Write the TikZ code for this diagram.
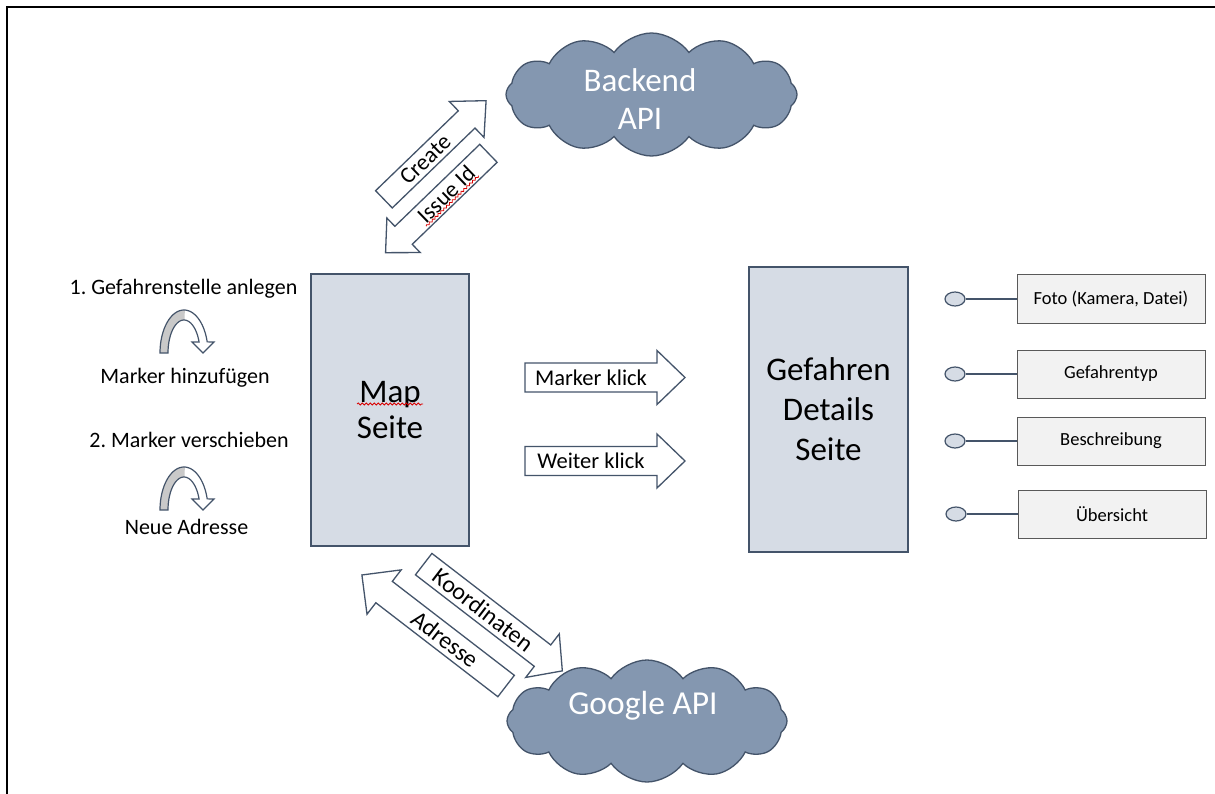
\documentclass[tikz,border=0pt]{standalone}
\usepackage{fontspec}
\setmainfont{Carlito}
\usetikzlibrary{shapes.symbols,shapes.geometric,decorations.pathmorphing}
\definecolor{boxfill}{HTML}{D6DCE5}
\definecolor{boxline}{HTML}{44546A}
\definecolor{cloudfill}{HTML}{8497B0}
\definecolor{cloudline}{HTML}{44546A}
\definecolor{grayfill}{HTML}{F2F2F2}
\definecolor{grayline}{HTML}{595959}
\definecolor{bandgray}{HTML}{C9C9C9}
\tikzset{
 bigbox/.style={draw=boxline, fill=boxfill, line width=1.3pt, align=center, inner sep=0pt},
 cloudshape/.style={cloud, cloud puffs=12, cloud puff arc=110, aspect=2.4, draw=cloudline, fill=cloudfill, line width=1.3pt, inner sep=0pt},
 cloudtext/.style={text=white, align=center, inner sep=0pt},
 barrow/.style={draw=boxline, fill=white, line width=1.3pt, line join=miter},
 btext/.style={font=\fontsize{23}{27}\selectfont, inner sep=1pt},
 lbl/.style={font=\fontsize{22}{26}\selectfont, inner sep=0pt},
 smallbox/.style={draw=grayline, fill=grayfill, line width=1pt, minimum width=188pt, minimum height=48pt, inner sep=0pt, font=\fontsize{18.5}{22}\selectfont},
 portdot/.style={ellipse, draw=boxline, fill=boxfill, line width=1.2pt, minimum width=20pt, minimum height=14pt, inner sep=0pt},
 conn/.style={draw=boxline, line width=1.2pt},
 squig/.style={draw=red!85!black, line width=0.8pt, decorate, decoration={snake, segment length=4pt, amplitude=1pt}},
 uline/.style={draw=boxline, line width=1.2pt},
 frameline/.style={line width=2pt, draw=black}
}
% block arrow: #1 name, #2 centre, #3 angle, #4 direction (1/-1), #5 length, #6 shaft, #7 head width, #8 head length, #9 text
\newcommand{\blockarrow}[9]{%
 \begin{scope}[shift={#2},rotate=#3]
  \pgfmathsetmacro\bL{#5/2}
  \pgfmathsetmacro\bS{#6/2}
  \pgfmathsetmacro\bW{#7/2}
  \pgfmathsetmacro\bB{#5/2-#8}
  \begin{scope}[xscale=#4]
   \draw[barrow] (-\bL,-\bS) -- (\bB,-\bS) -- (\bB,-\bW) -- (\bL,0) -- (\bB,\bW) -- (\bB,\bS) -- (-\bL,\bS) -- cycle;
  \end{scope}
  \pgfmathsetmacro\bT{-#4*#8/2}
  \node[btext,transform shape] (#1) at (\bT,0) {#9};
 \end{scope}}
% U-turn arrow: #1 centre x, #2 base y
\newcommand{\uturnpath}{plot[domain=180:15,samples=40] ({24*cos(\x)},{-43*sin(\x)}) -- (30,-11) -- (19,0) -- (8,-11) -- plot[domain=19.5:180,samples=40] ({16*cos(\x)},{-33*sin(\x)}) -- cycle}
\newcommand{\uturn}[2]{%
 \begin{scope}[shift={(#1,#2)}]
  \fill[white] \uturnpath;
  \fill[bandgray] plot[domain=180:88,samples=30] ({24*cos(\x)},{-43*sin(\x)}) -- plot[domain=88:180,samples=30] ({16*cos(\x)},{-33*sin(\x)}) -- cycle;
  \draw[uline] \uturnpath;
 \end{scope}}

\begin{document}
\begin{tikzpicture}[x=1pt,y=-1pt]
\useasboundingbox (0,0) rectangle (1215,794);
\fill[white] (0,0) rectangle (1215,794);
\draw[frameline] (7,794) -- (7,7) -- (1215,7);

% main pages
\node[bigbox, minimum width=158pt, minimum height=272pt, font=\fontsize{33}{36.5}\selectfont] (map) at (390,410) {Map\\Seite};
\draw[squig] (357,404) -- (423,404);
\node[bigbox, minimum width=159pt, minimum height=285pt, font=\fontsize{33}{40}\selectfont] (details) at (828.5,409.5) {Gefahren\\Details\\Seite};

% clouds
\node[cloudshape, minimum width=291pt, minimum height=123pt] (backend) at (651.5,94.5) {};
\node[cloudtext, font=\fontsize{33}{38}\selectfont] (backendtext) at (640,99) {Backend\\API};
\node[cloudshape, minimum width=280pt, minimum height=122pt] (google) at (647,721) {};
\node[cloudtext, font=\fontsize{33.5}{38}\selectfont] (googletext) at (643,706) {Google API};

% block arrows
\blockarrow{create}{(435,150)}{44}{1}{142}{24}{50}{27}{Create}
\blockarrow{issue}{(437,203)}{44}{-1}{143}{25}{48}{25}{Issue Id}
\draw[squig] (issue.south west) -- (issue.south east);
\blockarrow{koord}{(493,617.5)}{-37.6}{1}{175}{27}{55}{25}{\fontsize{24}{28}\selectfont Koordinaten}
\blockarrow{adresse}{(434,630.5)}{-37.6}{-1}{182}{27}{56}{28}{\fontsize{24}{28}\selectfont Adresse}
\blockarrow{markerklick}{(605,377.5)}{0}{1}{160}{29}{54}{28}{\fontsize{22.5}{27}\selectfont Marker klick}
\blockarrow{weiterklick}{(605,461)}{0}{1}{160}{29}{54}{28}{\fontsize{22.5}{27}\selectfont Weiter klick}

% left labels
\node[lbl] (step1) at (183.5,289) {1.\ Gefahrenstelle anlegen};
\uturn{184}{353}
\node[lbl] (marker) at (185,378) {Marker hinzufügen};
\node[lbl] (step2) at (189,440) {2.\ Marker verschieben};
\uturn{184}{510}
\node[lbl] (neue) at (186.5,527) {Neue Adresse};

% detail items
\node[smallbox] (foto) at (1111,299) {Foto (Kamera, Datei)};
\node[smallbox] (typ) at (1111,374) {Gefahrentyp};
\node[smallbox] (beschr) at (1111,441) {Beschreibung};
\node[smallbox] (uebers) at (1112,514) {Übersicht};
\node[portdot] (p1) at (955,299) {};
\node[portdot] (p2) at (955,374) {};
\node[portdot] (p3) at (955,441) {};
\node[portdot] (p4) at (956,514) {};
\draw[conn] (p1) -- (foto);
\draw[conn] (p2) -- (typ);
\draw[conn] (p3) -- (beschr);
\draw[conn] (p4) -- (uebers);
\end{tikzpicture}
\end{document}
